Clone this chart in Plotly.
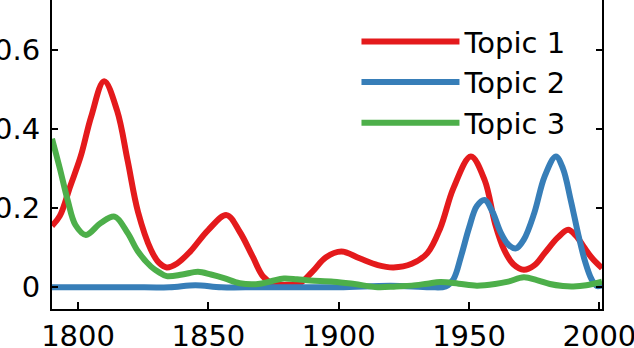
import plotly.graph_objects as go

# ---- data ----
t1_years = [1790, 1793, 1797, 1801, 1805, 1810, 1815, 1819, 1823, 1828, 1831, 1834, 1838, 1843, 1850,
            1857, 1862, 1867, 1871, 1875, 1880, 1885, 1890, 1895, 1901, 1908, 1915, 1921, 1928, 1934,
            1939, 1944, 1950.7, 1956, 1960, 1963.5, 1967, 1971, 1975, 1979, 1984, 1988, 1991, 1994,
            1997, 2001]
t1_vals = [0.155, 0.18, 0.255, 0.33, 0.43, 0.52, 0.445, 0.32, 0.19, 0.094, 0.062, 0.05, 0.06, 0.09, 0.145,
           0.182, 0.14, 0.077, 0.027, 0.008, 0.006, 0.01, 0.04, 0.075, 0.09, 0.073, 0.056, 0.05, 0.059, 0.086,
           0.15, 0.25, 0.33, 0.27, 0.16, 0.094, 0.058, 0.044, 0.055, 0.086, 0.125, 0.145, 0.13, 0.102,
           0.075, 0.048]

t2_years = [1790, 1800, 1820, 1835, 1845, 1855, 1870, 1900, 1920, 1935, 1941, 1944, 1947, 1950, 1953,
            1956, 1959, 1962, 1965, 1968, 1971, 1975, 1979, 1983.3, 1986, 1989, 1992, 1994.5, 1997,
            1999, 2001]
t2_vals = [0.0, 0.0, 0.0, 0.0, 0.005, 0.0, 0.0, 0.0, 0.004, 0.0, 0.002, 0.02, 0.08, 0.15, 0.205,
           0.22, 0.19, 0.14, 0.108, 0.098, 0.12, 0.187, 0.28, 0.33, 0.30, 0.22, 0.13, 0.065, 0.02,
           0.003, 0.005]

t3_years = [1790, 1793, 1796, 1799, 1803, 1808.7, 1814, 1819, 1823, 1828, 1831, 1834, 1840, 1846, 1851,
            1856, 1862, 1869, 1874, 1879, 1884, 1889, 1898, 1906, 1915, 1922, 1928, 1934, 1939, 1946,
            1953, 1960, 1965, 1971, 1976, 1981, 1986, 1990, 1995, 2001]
t3_vals = [0.375, 0.30, 0.22, 0.157, 0.132, 0.162, 0.178, 0.137, 0.09, 0.052, 0.038, 0.028, 0.032, 0.039, 0.032,
           0.023, 0.01, 0.008, 0.015, 0.022, 0.02, 0.017, 0.014, 0.008, 0.0, 0.002, 0.004, 0.009, 0.013, 0.009,
           0.004, 0.008, 0.014, 0.025, 0.018, 0.008, 0.003, 0.002, 0.005, 0.014]

names = ["Topic 1", "Topic 2", "Topic 3"]
colors = ["#E41A1C", "#377EB8", "#4DAF4A"]

x_ticks = [1800, 1850, 1900, 1950, 2000]
y_ticks = [0, 0.2, 0.4, 0.6]
y_ticktext = ["0", "0.2", "0.4", "0.6"]

FONT = "DejaVu Sans, Liberation Sans, Arial, sans-serif"
FS = 29

fig = go.Figure()
for xs, ys, nm, col in zip([t1_years, t2_years, t3_years], [t1_vals, t2_vals, t3_vals], names, colors):
    fig.add_trace(go.Scatter(x=xs, y=ys, name=nm, mode="lines", hoverinfo="skip",
                             line=dict(color=col, width=6, shape="spline", smoothing=1.0)))

fig.update_layout(
    width=634, height=348,
    margin=dict(l=52, r=32, t=0, b=39),
    paper_bgcolor="white", plot_bgcolor="white",
    font=dict(family=FONT, size=FS, color="black"),
    showlegend=True,
    legend=dict(x=0.5536, y=0.948, xanchor="left", yanchor="top",
                bgcolor="rgba(0,0,0,0)", borderwidth=0, itemwidth=98,
                font=dict(family=FONT, size=FS, color="black"), tracegroupgap=0),
    xaxis=dict(range=[1790, 2001], tickvals=x_ticks, ticks="inside", ticklen=7, tickwidth=2,
               tickcolor="black", showline=True, linecolor="black", linewidth=2, mirror=False,
               showgrid=False, zeroline=False, automargin=False, ticklabeloverflow="allow",
               tickfont=dict(family=FONT, size=FS, color="black")),
    xaxis2=dict(range=[1790, 2001], overlaying="x", side="top", tickvals=x_ticks, ticks="inside",
                ticklen=5, tickwidth=2, tickcolor="black", showticklabels=False, showline=False,
                showgrid=False, zeroline=False, automargin=False),
    yaxis=dict(range=[-0.055, 0.725], tickvals=y_ticks, ticktext=y_ticktext, ticks="inside",
               ticklen=6, tickwidth=2, tickcolor="black", showline=True, linecolor="black",
               linewidth=2, mirror="ticks", showgrid=False, zeroline=False, automargin=False,
               ticklabelstandoff=4, ticklabeloverflow="allow",
               tickfont=dict(family=FONT, size=FS, color="black")),
)

fig.write_html("out.html", config={"displayModeBar": False},
               post_script="document.body.style.margin='0';document.body.style.padding='0';")
